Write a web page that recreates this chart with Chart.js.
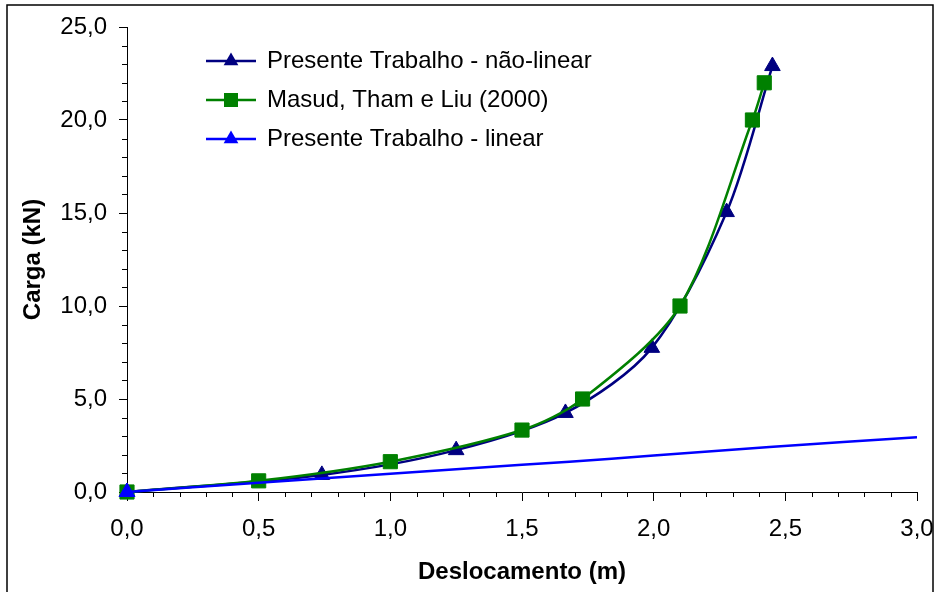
<!DOCTYPE html>
<html><head><meta charset="utf-8">
<script src="https://cdn.jsdelivr.net/npm/chart.js@4/dist/chart.umd.min.js"></script>
<style>html,body{margin:0;padding:0;background:#fff;}canvas{display:block;}</style>
</head><body>
<canvas id="c" width="938" height="592"></canvas>
<script>
// ---- data ----
const seriesNames = ['Presente Trabalho - não-linear', 'Masud, Tham e Liu (2000)', 'Presente Trabalho - linear'];
const naoLinearX = [0, 0.74, 1.25, 1.665, 1.993, 2.277, 2.451];
const naoLinearY = [0, 0.92, 2.25, 4.25, 7.75, 15.05, 22.9];
const masudX = [0, 0.5, 1.0, 1.5, 1.73, 2.1, 2.375, 2.42];
const masudY = [0, 0.6, 1.63, 3.33, 5.0, 10.0, 20.0, 22.0];
const linearX = [0, 0.5, 1.0, 1.5, 1.68, 2.0, 2.44, 3.0];
const linearY = [0, 0.5, 0.98, 1.46, 1.63, 1.96, 2.42, 2.95];
const xTickLabels = ['0,0', '0,5', '1,0', '1,5', '2,0', '2,5', '3,0'];
const yTickLabels = ['0,0', '5,0', '10,0', '15,0', '20,0', '25,0'];
const xTitle = 'Deslocamento (m)';
const yTitle = 'Carga (kN)';

const COL_NAVY = '#000080', COL_GREEN = '#008000', COL_BLUE = '#0000FF';
const FONT = '"Liberation Sans", Arial, sans-serif';

const pts = (xs, ys) => xs.map((x, i) => ({x: x, y: ys[i]}));

function legendIcon(color, style) {
  const c = document.createElement('canvas');
  c.width = 50; c.height = 20;
  const g = c.getContext('2d');
  g.strokeStyle = color; g.lineWidth = 2.5;
  g.beginPath(); g.moveTo(0, 10); g.lineTo(50, 10); g.stroke();
  g.fillStyle = color;
  g.beginPath();
  if (style === 'rect') {
    g.rect(25 - 7, 10 - 7, 14, 14);
  } else {
    const r = 8.5;
    g.moveTo(25, 10 - r);
    g.lineTo(25 + r * 0.866, 10 + r * 0.5);
    g.lineTo(25 - r * 0.866, 10 + r * 0.5);
    g.closePath();
  }
  g.fill();
  return c;
}
const icons = [legendIcon(COL_NAVY, 'triangle'), legendIcon(COL_GREEN, 'rect'), legendIcon(COL_BLUE, 'triangle')];

const framePlugin = {
  id: 'frame',
  beforeDraw(chart) {
    const ctx = chart.ctx;
    ctx.save();
    ctx.fillStyle = '#fff';
    ctx.fillRect(0, 0, chart.width, chart.height);
    ctx.strokeStyle = '#000';
    ctx.lineWidth = 1.5;
    ctx.strokeRect(7, 5, 926, 600);
    ctx.restore();
  }
};

const legendShift = {
  id: 'legendShift',
  afterLayout(chart) {
    const l = chart.legend;
    if (!l) return;
    l.left += 65; l.right += 65;
    l.top += 34; l.bottom += 34;
  }
};

const minorTicks = {
  id: 'minorTicks',
  afterDraw(chart) {
    const ctx = chart.ctx, xs = chart.scales.x, ys = chart.scales.y;
    ctx.save();
    ctx.strokeStyle = '#000'; ctx.lineWidth = 1;
    ctx.beginPath();
    for (let i = 1; i < 30; i++) {
      if (i % 5 === 0) continue;
      const px = Math.round(xs.getPixelForValue(i / 10)) + 0.5;
      ctx.moveTo(px, ys.bottom); ctx.lineTo(px, ys.bottom + 5);
    }
    for (let j = 1; j < 25; j++) {
      if (j % 5 === 0) continue;
      const py = Math.round(ys.getPixelForValue(j)) + 0.5;
      ctx.moveTo(xs.left - 5, py); ctx.lineTo(xs.left, py);
    }
    ctx.stroke();
    ctx.restore();
  }
};

new Chart(document.getElementById('c'), {
  type: 'line',
  data: {
    datasets: [
      {
        label: seriesNames[2], data: pts(linearX, linearY), clip: false,
        borderColor: COL_BLUE, backgroundColor: COL_BLUE, borderWidth: 2.5,
        pointStyle: 'triangle', pointRadius: (c) => c.dataIndex === 0 ? 9 : 0,
        pointBorderWidth: 1, pointBorderColor: COL_BLUE, pointBackgroundColor: COL_BLUE,
        tension: 0.3, fill: false
      },
      {
        label: seriesNames[1], data: pts(masudX, masudY), clip: false,
        borderColor: COL_GREEN, backgroundColor: COL_GREEN, borderWidth: 2.5,
        pointStyle: 'rect', pointRadius: 10, pointBorderWidth: 1,
        pointBorderColor: COL_GREEN, pointBackgroundColor: COL_GREEN,
        tension: 0.3, fill: false
      },
      {
        label: seriesNames[0], data: pts(naoLinearX, naoLinearY), clip: false,
        borderColor: COL_NAVY, backgroundColor: COL_NAVY, borderWidth: 2.5,
        pointStyle: 'triangle', pointRadius: 9, pointBorderWidth: 1,
        pointBorderColor: COL_NAVY, pointBackgroundColor: COL_NAVY,
        tension: 0.3, fill: false
      }
    ]
  },
  options: {
    responsive: false,
    animation: false,
    devicePixelRatio: 1,
    layout: {padding: {left: 0, right: 21, top: 27, bottom: 0}},
    plugins: {
      tooltip: {enabled: false},
      legend: {
        position: 'chartArea',
        align: 'start',
        labels: {
          font: {family: FONT, size: 24},
          color: '#000',
          usePointStyle: true,
          pointStyleWidth: 48,
          padding: 15,
          generateLabels: () => seriesNames.map((t, i) => ({
            text: t, pointStyle: icons[i], fillStyle: '#000', strokeStyle: '#000',
            lineWidth: 0, hidden: false, datasetIndex: 2 - i, fontColor: '#000'
          }))
        }
      }
    },
    scales: {
      x: {
        type: 'linear', position: 'bottom', min: 0, max: 3,
        ticks: {
          stepSize: 0.5, autoSkip: false, maxRotation: 0, padding: 14,
          color: '#000', font: {family: FONT, size: 24},
          callback: (v) => { const k = Math.round(v * 2); return (k >= 0 && k < xTickLabels.length && Math.abs(v * 2 - k) < 1e-6) ? xTickLabels[k] : ''; }
        },
        grid: {drawOnChartArea: false, drawTicks: true, tickLength: 9, tickColor: '#000', tickWidth: 1},
        border: {display: true, color: '#000', width: 1},
        title: {display: true, text: xTitle, color: '#000', font: {family: FONT, size: 24, weight: 'bold'}, padding: {top: 0, bottom: 5}},
        afterFit: (s) => { s.height = 100; s.paddingLeft = 0; s.paddingRight = 0; }
      },
      y: {
        type: 'linear', position: 'left', min: 0, max: 25,
        ticks: {
          stepSize: 5, autoSkip: false, padding: 12,
          color: '#000', font: {family: FONT, size: 24},
          callback: (v) => { const k = Math.round(v / 5); return (k >= 0 && k < yTickLabels.length) ? yTickLabels[k] : ''; }
        },
        grid: {drawOnChartArea: false, drawTicks: true, tickLength: 8, tickColor: '#000', tickWidth: 1},
        border: {display: true, color: '#000', width: 1},
        title: {display: true, text: yTitle, color: '#000', font: {family: FONT, size: 24, weight: 'bold'}, padding: {top: 19, bottom: 0}},
        afterFit: (s) => { s.width = 127; s.paddingTop = 0; s.paddingBottom = 0; }
      }
    }
  },
  plugins: [framePlugin, legendShift, minorTicks]
});
</script>
</body></html>
